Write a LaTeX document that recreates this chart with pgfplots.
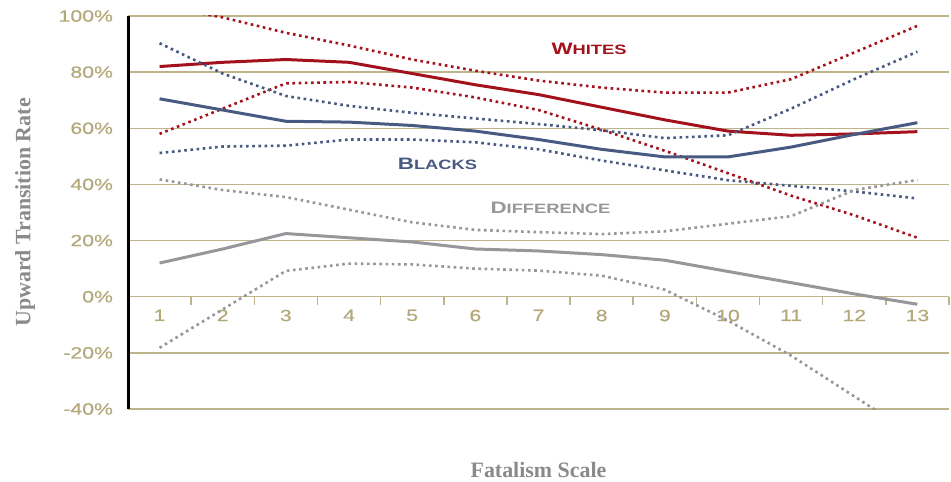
\documentclass[border=0pt]{standalone}
\usepackage{fontspec}
\setmainfont{Liberation Serif}
\newfontfamily\cop[FakeStretch=1.3,FakeBold=0.4]{Liberation Sans}
\newfontfamily\copb[FakeStretch=1.35]{Liberation Sans Bold}
\usepackage{pgfplots}
\usepackage{pgfplotstable}
\pgfplotsset{compat=1.18}
\definecolor{khaki}{RGB}{190,180,140}
\definecolor{khakitxt}{RGB}{178,168,122}
\definecolor{wred}{RGB}{163,18,28}
\definecolor{bblue}{RGB}{72,90,130}
\definecolor{dgray}{RGB}{150,150,155}
\definecolor{lgray}{RGB}{138,138,140}
\pgfplotstableread{
x whites wlo whi blacks blo bhi diff dlo dhi
1 82 58 103.5 70.5 51.2 90.3 12 -18.2 41.8
2 83.5 67 99.5 66.5 53.5 79.5 17 -4.5 38
3 84.5 76 94 62.5 53.8 71.5 22.5 9.2 35.5
4 83.5 76.5 89.5 62.2 56 68 21 11.8 31
5 79.5 74.5 84.5 61 56 65.5 19.5 11.5 26.5
6 75.5 71 80.5 59 55 63.5 17 10 23.8
7 72 66.5 77 56 52.5 61.5 16.3 9.3 23
8 67.5 59.5 74.5 52.5 48.5 59.3 15 7.5 22.3
9 63 52 72.7 49.8 45 56.5 13 2.5 23.3
10 59 44 72.7 49.8 41.5 57.5 9 -8.5 26
11 57.5 36 77.5 53.3 39.5 67 5 -21 28.7
12 58 29 87 57.8 37.5 77.5 1 -35.5 38
13 58.8 21 96.5 62 35 87.3 -2.7 -50 41.6
}\data
\begin{document}
\begin{tikzpicture}
\useasboundingbox (0,0) rectangle (475.5bp,241bp);
\begin{axis}[
  at={(64bp,36.5bp)}, anchor=south west,
  scale only axis, width=410.5bp, height=196.5bp,
  xmin=0.5, xmax=13.5, ymin=-40, ymax=100,
  axis x line=middle, axis y line=left,
  hide obscured x ticks=false, hide obscured y ticks=false,
  x axis line style={-, draw=khaki, line width=0.75bp},
  y axis line style={-, draw=black, line width=1.5bp},
  xtick={1,...,13}, minor xtick={1.5,2.5,...,13.5},
  ytick={-40,-20,...,100},
  major tick length=0pt, minor tick length=4bp,
  tick align=center,
  minor tick style={draw=khaki, line width=0.75bp, yshift=-2bp},
  ymajorgrids, major grid style={draw=khaki, line width=0.75bp},
  /pgf/number format/assume math mode=true,
  ticklabel style={font=\cop\fontsize{8.2}{9}\selectfont, text=khakitxt},
  yticklabel={\pgfmathprintnumber{\tick}\%},
  yticklabel style={xshift=-4bp},
  xticklabel style={yshift=-3bp},
  clip mode=individual,
]
\addplot[wred, line width=1.5bp] table[x=x,y=whites]{\data};
\addplot[wred, line width=1.3bp, dash pattern=on 1.3bp off 1.8bp] table[x=x,y=wlo]{\data};
\addplot[wred, line width=1.3bp, dash pattern=on 1.3bp off 1.8bp] table[x=x,y=whi]{\data};
\addplot[bblue, line width=1.5bp] table[x=x,y=blacks]{\data};
\addplot[bblue, line width=1.3bp, dash pattern=on 1.3bp off 1.8bp] table[x=x,y=blo]{\data};
\addplot[bblue, line width=1.3bp, dash pattern=on 1.3bp off 1.8bp] table[x=x,y=bhi]{\data};
\addplot[dgray, line width=1.5bp] table[x=x,y=diff]{\data};
\addplot[dgray, line width=1.3bp, dash pattern=on 1.3bp off 1.8bp] table[x=x,y=dlo]{\data};
\addplot[dgray, line width=1.3bp, dash pattern=on 1.3bp off 1.8bp] table[x=x,y=dhi]{\data};
\node[text=wred, font=\copb] at (axis cs:7.8,88.2) {\fontsize{8.3}{9}\selectfont W\fontsize{6.8}{7}\selectfont HITES};
\node[text=bblue, font=\copb] at (axis cs:5.4,47.3) {\fontsize{8.3}{9}\selectfont B\fontsize{6.8}{7}\selectfont LACKS};
\node[text=dgray, font=\copb] at (axis cs:7.19,31.5) {\fontsize{8.3}{9}\selectfont D\fontsize{6.8}{7}\selectfont IFFERENCE};
\node[rotate=90, text=lgray, font=\bfseries\fontsize{11}{12}\selectfont] at ([xshift=-51.5bp]rel axis cs:0,0.5) {Upward Transition Rate};
\node[text=lgray, font=\bfseries\fontsize{11}{12}\selectfont] at ([yshift=-30.5bp]rel axis cs:0.5,0) {Fatalism Scale};
\end{axis}
\end{tikzpicture}
\end{document}
